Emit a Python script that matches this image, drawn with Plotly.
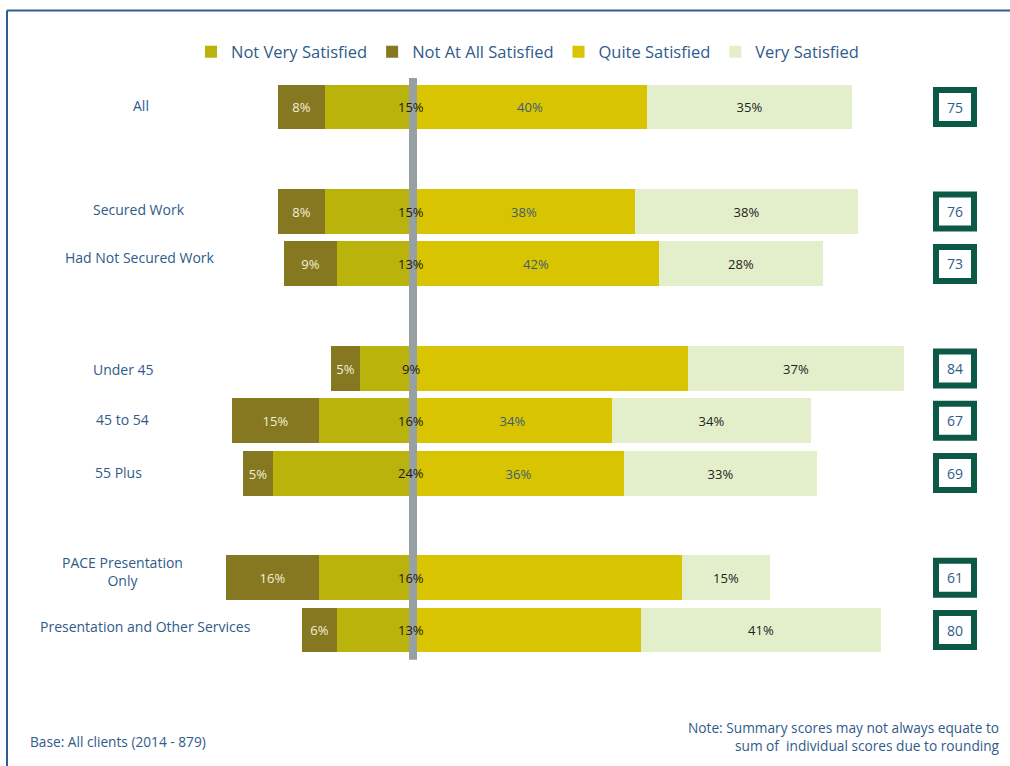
import plotly.graph_objects as go

# Survey groups (top to bottom) and their satisfaction shares, in percent
groups = ["All", "Secured Work", "Had Not Secured Work", "Under 45", "45 to 54",
          "55 Plus", "PACE Presentation<br>Only", "Presentation and Other Services"]
not_very = [15, 15, 13, 9, 16, 24, 16, 13]
not_at_all = [8, 8, 9, 5, 15, 5, 16, 6]
quite = [40, 38, 42, 47, 34, 36, 46, 39]
very = [35, 38, 28, 37, 34, 33, 15, 41]
quite_labelled = [True, True, True, False, True, True, False, False]
scores = [75, 76, 73, 84, 67, 69, 61, 80]

# vertical slot for each group (blank slots separate the sub-groups)
slots = [0, 2, 3, 5, 6, 7, 9, 10]
# where each group name is centred: x in pixels, vertical nudge in pixels
name_x_px = [141, 139, 140, 123, 122, 118, 122, 145]
name_yshift = [2, 2, 6, -1, 1, 1, 6, 4]

FONT = "Open Sans"
BLUE = "#2f5b8a"
C_NOT_VERY = "#b9b30b"
C_NOT_AT_ALL = "#857821"
C_QUITE = "#d8c400"
C_VERY = "#e3efcb"

W, H = 1010, 766
ROW_PX = 52.3
TOP_PX = 107
PX_PER_PCT = 5.85
ZERO_PX = 413

fig = go.Figure()

bar_common = dict(orientation="h", y=slots, width=0.86, constraintext="none",
                  textposition="inside", insidetextanchor="middle",
                  marker_line_width=0, hoverinfo="skip")

fig.add_trace(go.Bar(name="Not Very Satisfied", x=[-v for v in not_very],
                     marker_color=C_NOT_VERY, **bar_common))
fig.add_trace(go.Bar(name="Not At All Satisfied", x=[-v for v in not_at_all],
                     text=[f"{v}%" for v in not_at_all],
                     textfont=dict(color="#f3efd9", size=13, family=FONT),
                     marker_color=C_NOT_AT_ALL, **bar_common))
fig.add_trace(go.Bar(name="Quite Satisfied", x=quite,
                     text=[f"{v}%" if s else "" for v, s in zip(quite, quite_labelled)],
                     textfont=dict(color="#3e5c74", size=13, family=FONT),
                     marker_color=C_QUITE, **bar_common))
fig.add_trace(go.Bar(name="Very Satisfied", x=very,
                     text=[f"{v}%" for v in very],
                     textfont=dict(color="#222222", size=13, family=FONT),
                     marker_color=C_VERY, **bar_common))

shapes = []
annotations = []

# grey divider at zero
shapes.append(dict(type="line", xref="x", yref="y", x0=0, x1=0,
                   y0=-0.555, y1=10.57, layer="above",
                   line=dict(color="#97a1a1", width=8)))

# "Not Very Satisfied" shares sit on the divider
for s, v in zip(slots, not_very):
    annotations.append(dict(x=0, y=s, xref="x", yref="y", text=f"{v}%",
                            showarrow=False, xanchor="center", xshift=-2,
                            font=dict(color="#1a1a1a", size=13, family=FONT)))

# group names
for s, g, nx, ny in zip(slots, groups, name_x_px, name_yshift):
    annotations.append(dict(x=nx / W, y=s, xref="paper", yref="y", text=g,
                            showarrow=False, xanchor="center", yshift=ny,
                            font=dict(color=BLUE, size=14, family=FONT)))

# summary score boxes
bx0, bx1 = 936 / W, 974 / W
half = 17 / ROW_PX
for s, sc in zip(slots, scores):
    shapes.append(dict(type="rect", xref="paper", yref="y", x0=bx0, x1=bx1,
                       y0=s - half, y1=s + half, layer="above",
                       line=dict(color="#0b5846", width=6), fillcolor="white"))
    annotations.append(dict(x=955 / W, y=s, xref="paper", yref="y", text=str(sc),
                            showarrow=False, xanchor="center", yanchor="middle",
                            font=dict(color=BLUE, size=14, family=FONT)))

# frame lines
shapes.append(dict(type="line", xref="paper", yref="paper", x0=7 / W, x1=1,
                   y0=1 - 10.5 / H, y1=1 - 10.5 / H, line=dict(color="#2f5f8f", width=2)))
shapes.append(dict(type="line", xref="paper", yref="paper", x0=7 / W, x1=7 / W,
                   y0=0, y1=1 - 10.5 / H, line=dict(color="#2f5f8f", width=2)))

# footnotes
annotations.append(dict(x=28 / W, y=1 - 741 / H, xref="paper", yref="paper",
                        text="Base: All clients (2014 - 879)", showarrow=False,
                        xanchor="left", yanchor="middle",
                        font=dict(color=BLUE, size=13.7, family=FONT)))
annotations.append(dict(x=1002 / W, y=1 - 736 / H, xref="paper", yref="paper",
                        text="Note: Summary scores may not always equate to<br>"
                             "sum of  individual scores due to rounding",
                        showarrow=False, xanchor="right", yanchor="middle", align="right",
                        font=dict(color=BLUE, size=13.7, family=FONT)))

fig.update_layout(
    width=W, height=H,
    margin=dict(l=0, r=0, t=0, b=0),
    paper_bgcolor="white", plot_bgcolor="white",
    barmode="relative", bargap=0,
    font=dict(family=FONT, color=BLUE),
    xaxis=dict(range=[-ZERO_PX / PX_PER_PCT, (W - ZERO_PX) / PX_PER_PCT],
               domain=[0, 1], visible=False, fixedrange=True),
    yaxis=dict(range=[(H - TOP_PX) / ROW_PX, -TOP_PX / ROW_PX],
               domain=[0, 1], visible=False, fixedrange=True),
    showlegend=True,
    legend=dict(orientation="h", x=191 / W, y=1 - 52 / H, xanchor="left",
                yanchor="middle", font=dict(color=BLUE, size=16.5, family=FONT),
                traceorder="normal", itemclick=False, itemdoubleclick=False,
                bgcolor="rgba(0,0,0,0)"),
    shapes=shapes,
    annotations=annotations,
)

fig.write_html("out.html")
